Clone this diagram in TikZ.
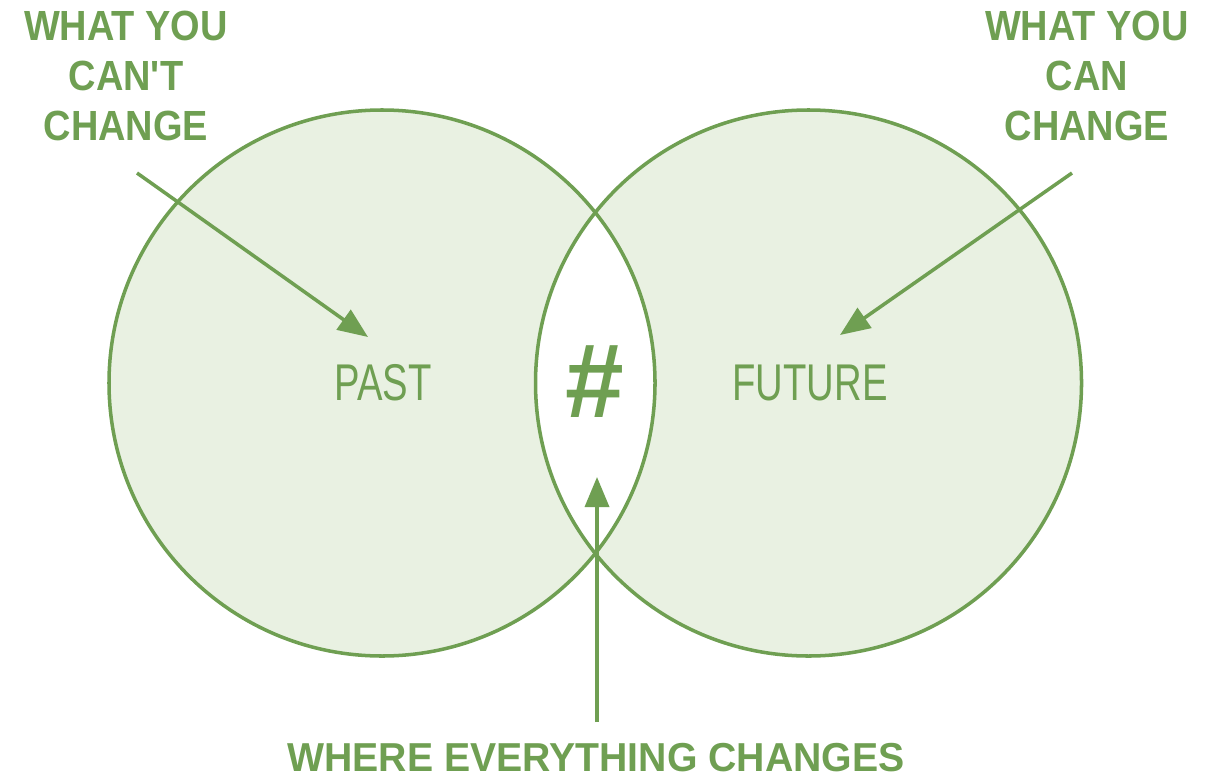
\documentclass[tikz,border=0pt]{standalone}
\usepackage{fontspec}
\setmainfont{Liberation Sans}
\newfontfamily\labelfont{Liberation Sans}[FakeStretch=0.9]
\newfontfamily\wherefont{Liberation Sans}[FakeStretch=0.97]
\newfontfamily\namefont{Liberation Sans}[FakeStretch=0.74]
\usetikzlibrary{arrows.meta, positioning}
\definecolor{leafgreen}{HTML}{6F9F52}
\definecolor{paleleaf}{HTML}{E9F1E2}

\begin{document}
\begin{tikzpicture}[line width=1pt,
    ring/.style={circle, draw=leafgreen, minimum size=5.46cm, inner sep=0pt},
    tagtext/.style={text=leafgreen, font=\labelfont\bfseries\fontsize{12}{14.2}\selectfont, align=center},
    timename/.style={text=leafgreen, font=\namefont\fontsize{14.7}{16}\selectfont},
    pointer/.style={color=leafgreen, -{Triangle[length=3mm, width=2.4mm]}}]
    \useasboundingbox (0,0) rectangle (12.16,7.76);
    % the two circles and the lens between them
    \fill[paleleaf] (3.82,3.93) circle (2.73cm) (8.085,3.93) circle (2.73cm);
    \begin{scope}
        \clip (3.82,3.93) circle (2.73cm);
        \fill[white] (8.085,3.93) circle (2.73cm);
    \end{scope}
    \node[ring] (past) at (3.82,3.93) {};
    \node[ring] (future) at (8.085,3.93) {};
    \node[timename] (pastname) at (3.83,3.93) {PAST};
    \node[timename] (futurename) at (8.10,3.93) {FUTURE};
    \node[text=leafgreen, font=\bfseries\fontsize{30}{32}\selectfont] (now) at (5.95,3.94) {\#};
    % labels
    \node[tagtext] (cant) at (1.26,7.0) {WHAT YOU\\CAN'T\\CHANGE};
    \node[tagtext] (can) at (10.87,7.0) {WHAT YOU\\CAN\\CHANGE};
    \node[tagtext, font=\wherefont\bfseries\fontsize{11.5}{14}\selectfont, anchor=base] (where) at (5.96,0.05) {WHERE EVERYTHING CHANGES};
    % arrows
    \coordinate (cantfrom) at (1.37,6.03);
    \coordinate (cantto) at (3.68,4.39);
    \coordinate (canfrom) at (10.72,6.03);
    \coordinate (canto) at (8.40,4.41);
    \coordinate (wherefrom) at (5.97,0.54);
    \coordinate (whereto) at (5.97,2.99);
    \path
    (cantfrom) edge[pointer] (cantto)
    (canfrom) edge[pointer] (canto)
    (wherefrom) edge[pointer] (whereto);
\end{tikzpicture}
\end{document}
